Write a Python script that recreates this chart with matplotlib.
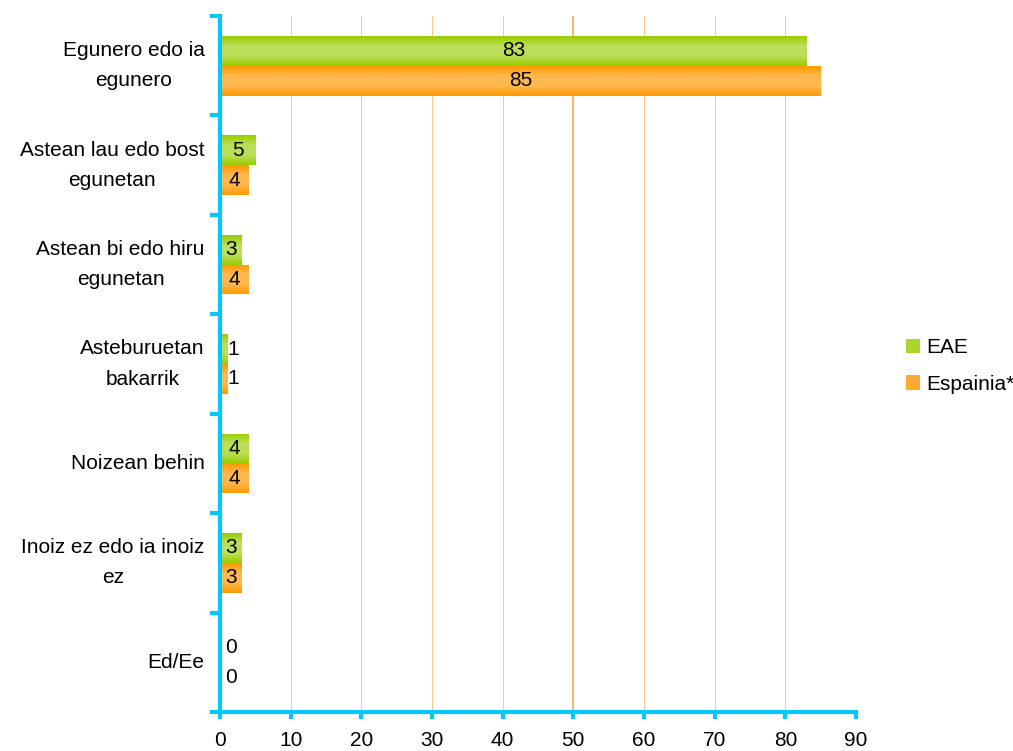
import matplotlib
matplotlib.use("Agg")
import matplotlib.pyplot as plt
import numpy as np
from matplotlib.colors import LinearSegmentedColormap
from matplotlib.patches import Patch

categories = ["Egunero edo ia\negunero", "Astean lau edo bost\negunetan",
              "Astean bi edo hiru\negunetan", "Asteburuetan\nbakarrik",
              "Noizean behin", "Inoiz ez edo ia inoiz\nez", "Ed/Ee"]
eae = [83, 5, 3, 1, 4, 3, 0]
espainia = [85, 4, 4, 1, 4, 3, 0]
series_names = ["EAE", "Espainia*"]
xticks = [0, 10, 20, 30, 40, 50, 60, 70, 80, 90]

plt.rcParams['font.family'] = ['Liberation Sans', 'DejaVu Sans']
FS = 15

fig = plt.figure(figsize=(10.13, 7.51), dpi=100)
ax = fig.add_axes([220/1013, 39/751, 636/1013, 696/751])

y = np.arange(len(categories))
h = 0.3
green_cmap = LinearSegmentedColormap.from_list("g", ["#99cc00", "#bcdf5a", "#bcdf5a", "#99cc00"])
orange_cmap = LinearSegmentedColormap.from_list("o", ["#ff9900", "#ffb84f", "#ffb84f", "#ff9900"])

bars1 = ax.barh(y - h/2, eae, height=h, color="#aad52a", zorder=2)
bars2 = ax.barh(y + h/2, espainia, height=h, color="#ffaa33", zorder=2)

grad = np.linspace(0, 1, 64).reshape(-1, 1)
for bars, cm in ((bars1, green_cmap), (bars2, orange_cmap)):
    for b in bars:
        w = b.get_width()
        if w <= 0:
            continue
        x0, y0, hh = b.get_x(), b.get_y(), b.get_height()
        im = ax.imshow(grad, cmap=cm, aspect='auto', extent=(x0, x0 + w, y0 + hh, y0),
                       zorder=3, interpolation='bicubic')
        im.set_clip_path(b)

for bars, vals in ((bars1, eae), (bars2, espainia)):
    for b, v in zip(bars, vals):
        yc = b.get_y() + b.get_height()/2
        if v <= 1:
            ax.text(max(v, 0.7) + 0.05, yc, str(v), ha='left', va='center', fontsize=FS, zorder=5)
        else:
            ax.text(max(v/2, 1.6), yc, str(v), ha='center', va='center', fontsize=FS, zorder=5)

ax.set_xlim(0, 90)
ax.set_ylim(len(categories) - 0.5, -0.5)
ax.set_xticks(xticks)
ax.set_xticklabels([str(t) for t in xticks], fontsize=FS)
ax.set_yticks(y)
ax.set_yticklabels(categories, fontsize=FS, linespacing=1.75, multialignment='center', va='center')
ax.tick_params(axis='y', which='major', length=0, pad=11)
ax.set_yticks(np.arange(-0.5, len(categories), 1), minor=True)
ax.tick_params(axis='y', which='minor', length=7, width=3, color='#00c8ff', direction='out')
ax.tick_params(axis='x', length=5, width=3, color='#00c8ff', direction='out', pad=9)

for xv in xticks[1:]:
    if xv == 50:
        ax.axvline(xv, color='#f7b060', lw=1.3, zorder=1)
    else:
        ax.axvline(xv, color='#f5c890', lw=0.7, zorder=1)

for s in ['top', 'right']:
    ax.spines[s].set_visible(False)
for s in ['left', 'bottom']:
    ax.spines[s].set_color('#00c8ff')
    ax.spines[s].set_linewidth(3)
    ax.spines[s].set_zorder(6)

handles = [Patch(facecolor="#aad52a"), Patch(facecolor="#ffaa33")]
fig.legend(handles, series_names, loc='center left', bbox_to_anchor=(887/1013, 1 - 366/751),
           frameon=False, fontsize=FS, handlelength=0.7, handleheight=0.7, handletextpad=0.3,
           labelspacing=0.85)

fig.savefig("out.png", dpi=100)
